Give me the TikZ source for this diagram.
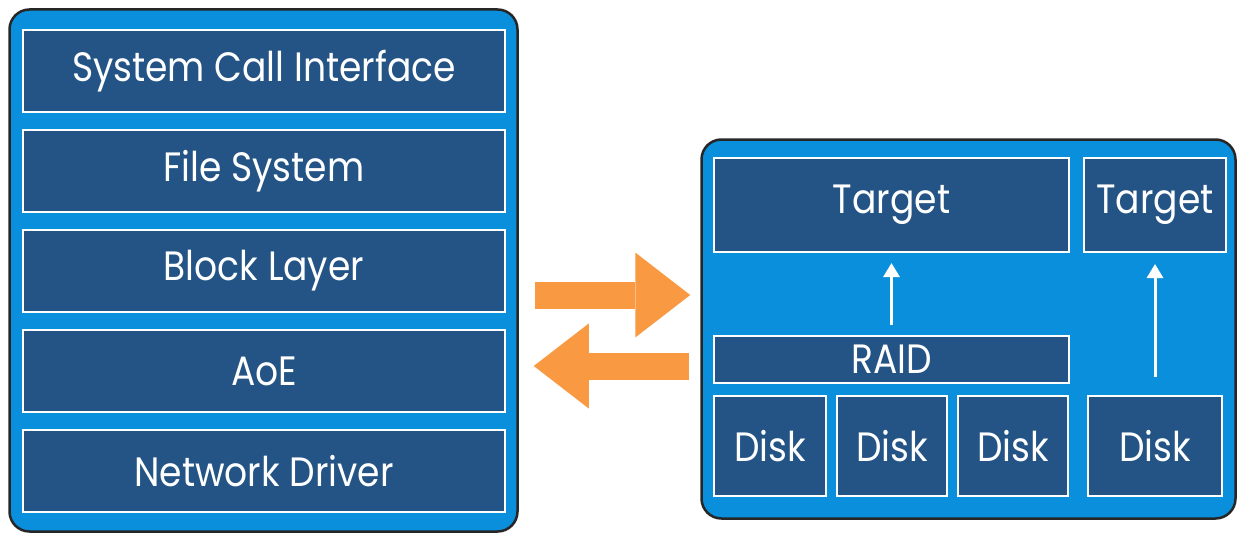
\documentclass[tikz,border=0pt]{standalone}
\usepackage{fontspec}
\setmainfont[FakeStretch=0.88]{Poppins}
\usetikzlibrary{positioning}
\usetikzlibrary {arrows.meta}
\definecolor{panelblue}{HTML}{0A8FDC}
\definecolor{layerblue}{HTML}{235485}
\definecolor{floworange}{HTML}{F99A43}
\tikzset{machine/.style={rectangle,rounded corners=20pt,draw=black!85,fill=panelblue,
line width=2.5pt}}
\tikzset{layer/.style={rectangle,draw=white,fill=layerblue,line width=2pt,
inner sep=0pt,text=white,font=\fontsize{41}{43}\selectfont}}
\tikzset{flow/.style={draw=floworange,line width=27pt,
-{Triangle[length=55pt,width=85pt,line width=0pt]}}}
\tikzset{uplink/.style={draw=white,line width=3pt,-{Triangle[length=14pt,width=16pt]}}}

\begin{document}
\begin{tikzpicture}[x=1pt,y=-1pt]
    \useasboundingbox (0,0) rectangle (1239,535);

    \node[machine,minimum width=508pt,minimum height=522pt] (host) at (263.5,270.5) {};
    \node[machine,minimum width=534pt,minimum height=379pt] (server) at (968.5,329) {};

    \node[layer,minimum width=482pt,minimum height=82pt] (sci) at (264,71) {System Call Interface};
    \node[layer,minimum width=482pt,minimum height=82pt] (fs) [below=16pt of sci] {File System};
    \node[layer,minimum width=482pt,minimum height=82pt] (blk) [below=16pt of fs] {Block Layer};
    \node[layer,minimum width=482pt,minimum height=82pt] (aoe) [below=16pt of blk] {AoE};
    \node[layer,minimum width=482pt,minimum height=82pt] (net) [below=16pt of aoe] {Network Driver};

    \node[layer,minimum width=355pt,minimum height=94pt] (targetA) at (891.5,205) {Target};
    \node[layer,minimum width=142pt,minimum height=94pt] (targetB) at (1155,205) {Target};
    \node[layer,minimum width=355pt,minimum height=47pt] (raid) at (891.5,359.5) {RAID};

    \node[layer,minimum width=112pt,minimum height=100pt] (diskA) at (770,446) {Disk};
    \node[layer,minimum width=110pt,minimum height=100pt] (diskB) [right=9pt of diskA] {Disk};
    \node[layer,minimum width=110pt,minimum height=100pt] (diskC) [right=9pt of diskB] {Disk};
    \node[layer,minimum width=134pt,minimum height=100pt] (diskD) at (1155,446) {Disk};

    % requests out, replies back
    \coordinate (outA) at ([yshift=-24.5pt]host.east);
    \coordinate (backA) at ([yshift=-95.5pt]host.east);
    \draw[flow,shorten <=16pt,shorten >=10pt] (outA) -- (outA -| server.west);
    \draw[flow,shorten <=11pt,shorten >=15pt] (backA -| server.west) -- (backA);

    \draw[uplink,shorten <=10pt,shorten >=10pt] (raid.north) -- (targetA.south);
    \draw[uplink,shorten <=18pt,shorten >=11pt] (diskD.north) -- (targetB.south);

\end{tikzpicture}
\end{document}
